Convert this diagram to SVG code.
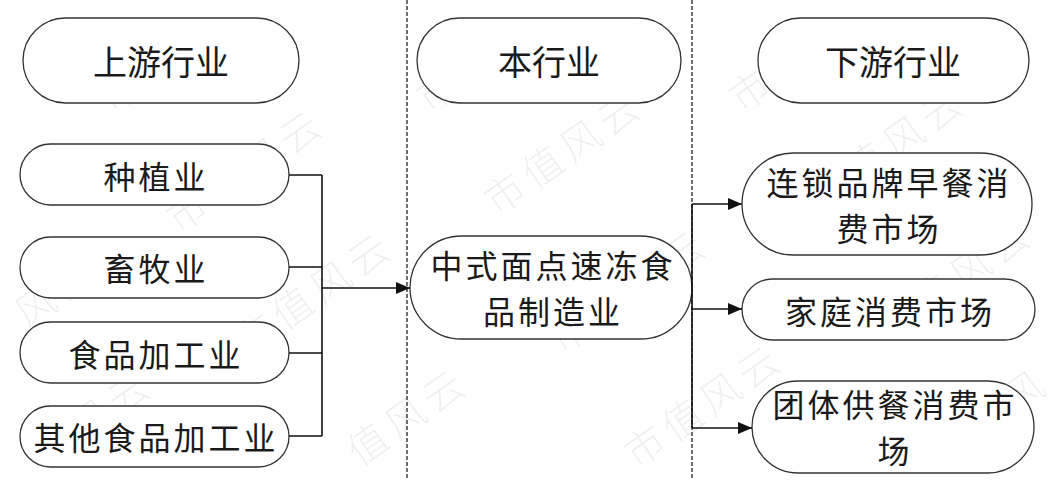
<svg xmlns="http://www.w3.org/2000/svg" width="1057" height="480" viewBox="0 0 1057 480">
  <defs>
    <marker id="arrow" viewBox="0 0 14 12" refX="14" refY="6" markerWidth="14" markerHeight="12" markerUnits="userSpaceOnUse" orient="auto">
      <path d="M0,0 L14,6 L0,12 Z" fill="#111"/>
    </marker>
  </defs>
  <style>
    .node { fill: #fff; stroke: #333; stroke-width: 1.3; }
    .label { font-family: "Noto Sans CJK SC", "Noto Sans", sans-serif; font-size: 32px; fill: #1a1a1a; text-anchor: middle; dominant-baseline: central; letter-spacing: 3px; }
    .head { font-family: "Noto Sans CJK SC", "Noto Sans", sans-serif; font-size: 34px; fill: #1a1a1a; text-anchor: middle; dominant-baseline: central; }
    .divider { stroke: #222; stroke-width: 1.3; stroke-dasharray: 4 2; fill: none; }
    .link { stroke: #111; stroke-width: 1.6; fill: none; }
    .wm { font-family: "Noto Sans CJK SC", sans-serif; font-size: 40px; font-weight: 300; fill: #000; fill-opacity: 0.07; text-anchor: middle; dominant-baseline: central; }
  </style>

  <rect width="1057" height="480" fill="#fff"/>

  <!-- faint diagonal stamp text, one glyph per element, drawn under everything -->
  <g id="stamp">
    <text class="wm" transform="translate(118.5,88.6) rotate(-35)">市</text>
    <text class="wm" transform="translate(156.2,62.2) rotate(-35)">值</text>
    <text class="wm" transform="translate(193.8,35.8) rotate(-35)">风</text>

    <text class="wm" transform="translate(435.5,88.6) rotate(-35)">市</text>
    <text class="wm" transform="translate(473.2,62.2) rotate(-35)">值</text>
    <text class="wm" transform="translate(510.8,35.8) rotate(-35)">风</text>

    <text class="wm" transform="translate(748.5,88.6) rotate(-35)">市</text>
    <text class="wm" transform="translate(786.2,62.2) rotate(-35)">值</text>
    <text class="wm" transform="translate(823.8,35.8) rotate(-35)">风</text>

    <text class="wm" transform="translate(185.5,209.6) rotate(-35)">市</text>
    <text class="wm" transform="translate(223.2,183.2) rotate(-35)">值</text>
    <text class="wm" transform="translate(260.8,156.8) rotate(-35)">风</text>
    <text class="wm" transform="translate(298.5,130.4) rotate(-35)">云</text>

    <text class="wm" transform="translate(503.5,191.6) rotate(-35)">市</text>
    <text class="wm" transform="translate(541.2,165.2) rotate(-35)">值</text>
    <text class="wm" transform="translate(578.8,138.8) rotate(-35)">风</text>
    <text class="wm" transform="translate(616.5,112.4) rotate(-35)">云</text>

    <text class="wm" transform="translate(826.5,187.6) rotate(-35)">市</text>
    <text class="wm" transform="translate(864.2,161.2) rotate(-35)">值</text>
    <text class="wm" transform="translate(901.8,134.8) rotate(-35)">风</text>
    <text class="wm" transform="translate(939.5,108.4) rotate(-35)">云</text>

    <text class="wm" transform="translate(33.8,304.8) rotate(-35)">风</text>
    <text class="wm" transform="translate(71.5,278.4) rotate(-35)">云</text>

    <text class="wm" transform="translate(253.5,332.6) rotate(-35)">市</text>
    <text class="wm" transform="translate(291.2,306.2) rotate(-35)">值</text>
    <text class="wm" transform="translate(328.8,279.8) rotate(-35)">风</text>
    <text class="wm" transform="translate(366.5,253.4) rotate(-35)">云</text>

    <text class="wm" transform="translate(568.5,329.6) rotate(-35)">市</text>
    <text class="wm" transform="translate(606.2,303.2) rotate(-35)">值</text>
    <text class="wm" transform="translate(643.8,276.8) rotate(-35)">风</text>
    <text class="wm" transform="translate(681.5,250.4) rotate(-35)">云</text>

    <text class="wm" transform="translate(893.5,319.6) rotate(-35)">市</text>
    <text class="wm" transform="translate(931.2,293.2) rotate(-35)">值</text>
    <text class="wm" transform="translate(968.8,266.8) rotate(-35)">风</text>
    <text class="wm" transform="translate(1006.5,240.4) rotate(-35)">云</text>

    <text class="wm" transform="translate(51.2,444.2) rotate(-35)">值</text>
    <text class="wm" transform="translate(88.8,417.8) rotate(-35)">风</text>
    <text class="wm" transform="translate(126.5,391.4) rotate(-35)">云</text>

    <text class="wm" transform="translate(366.2,442.2) rotate(-35)">值</text>
    <text class="wm" transform="translate(403.8,415.8) rotate(-35)">风</text>
    <text class="wm" transform="translate(441.5,389.4) rotate(-35)">云</text>

    <text class="wm" transform="translate(643.5,444.6) rotate(-35)">市</text>
    <text class="wm" transform="translate(681.2,418.2) rotate(-35)">值</text>
    <text class="wm" transform="translate(718.8,391.8) rotate(-35)">风</text>
    <text class="wm" transform="translate(756.5,365.4) rotate(-35)">云</text>

    <text class="wm" transform="translate(949.5,442.6) rotate(-35)">市</text>
    <text class="wm" transform="translate(987.2,416.2) rotate(-35)">值</text>
    <text class="wm" transform="translate(1021.8,389.8) rotate(-35)">风</text>
  </g>

  <!-- column dividers -->
  <g id="dividers">
    <line class="divider" x1="407" y1="0" x2="407" y2="480"/>
    <line class="divider" x1="692" y1="0" x2="692" y2="480"/>
  </g>

  <!-- column headers -->
  <g id="head-upstream">
    <rect class="node" x="23" y="18" width="276" height="85" rx="42.5"/>
    <text class="head" x="161" y="60">上游行业</text>
  </g>
  <g id="head-self">
    <rect class="node" x="417" y="18" width="264" height="85" rx="42.5"/>
    <text class="head" x="549" y="60">本行业</text>
  </g>
  <g id="head-downstream">
    <rect class="node" x="758" y="18" width="271" height="85" rx="42.5"/>
    <text class="head" x="893" y="60">下游行业</text>
  </g>

  <!-- upstream nodes -->
  <g id="n-planting">
    <rect class="node" x="20" y="144" width="269" height="61" rx="30.5"/>
    <text class="label" x="156" y="175">种植业</text>
  </g>
  <g id="n-livestock">
    <rect class="node" x="20" y="237" width="269" height="61" rx="30.5"/>
    <text class="label" x="156" y="267">畜牧业</text>
  </g>
  <g id="n-foodproc">
    <rect class="node" x="20" y="322" width="269" height="61" rx="30.5"/>
    <text class="label" x="156" y="353">食品加工业</text>
  </g>
  <g id="n-otherfood">
    <rect class="node" x="20" y="406" width="269" height="61" rx="30.5"/>
    <text class="label" x="156" y="436">其他食品加工业</text>
  </g>

  <!-- this industry -->
  <g id="n-core">
    <rect class="node" x="410" y="236" width="282" height="103" rx="51.5"/>
    <text class="label" x="553" y="264">中式面点速冻食</text>
    <text class="label" x="553" y="310">品制造业</text>
  </g>

  <!-- downstream nodes -->
  <g id="n-chain">
    <rect class="node" x="742" y="153" width="290" height="102" rx="51"/>
    <text class="label" x="889" y="181">连锁品牌早餐消</text>
    <text class="label" x="889" y="227">费市场</text>
  </g>
  <g id="n-home">
    <rect class="node" x="742" y="279" width="293" height="61" rx="30.5"/>
    <text class="label" x="890" y="310">家庭消费市场</text>
  </g>
  <g id="n-group">
    <rect class="node" x="752" y="381" width="282" height="92" rx="46"/>
    <text class="label" x="895" y="403">团体供餐消费市</text>
    <text class="label" x="895" y="449">场</text>
  </g>

  <!-- connectors -->
  <g id="connectors">
    <path class="link" d="M289,175 H322 M289,267 H322 M289,353 H322 M289,436 H322 M322,175 V436"/>
    <path class="link" d="M322,288 H410" marker-end="url(#arrow)"/>
    <path class="link" d="M692,204 V428"/>
    <path class="link" d="M692,204 H742" marker-end="url(#arrow)"/>
    <path class="link" d="M692,309 H742" marker-end="url(#arrow)"/>
    <path class="link" d="M692,428 H752" marker-end="url(#arrow)"/>
  </g>
</svg>
